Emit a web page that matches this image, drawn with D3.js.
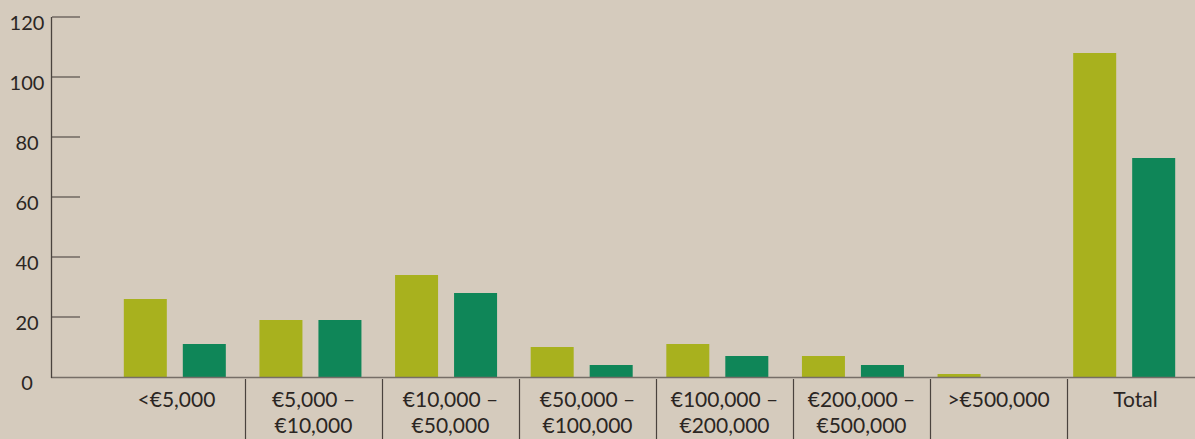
<!DOCTYPE html>
<html lang="en">
<head>
    <meta charset="utf-8">
    <title>Bar chart</title>
    <script src="https://d3js.org/d3.v7.min.js"></script>
    <style>
        body {
            margin: 0;
            background-color: #d5cbbd;
            font-family: Lato, "Open Sans", sans-serif;
        }
        svg {
            display: block;
        }
        .tickLabel, .catLabel {
            fill: #2b2623;
            font-size: 20px;
        }
        .catLabel {
            font-size: 21px;
        }
    </style>
</head>
<body>
<script>

    var w = 1195;
    var h = 439;

    // data
    var categories = [["<\u20AC5,000"], ["\u20AC5,000 \u2013", "\u20AC10,000"], ["\u20AC10,000 \u2013", "\u20AC50,000"],
        ["\u20AC50,000 \u2013", "\u20AC100,000"], ["\u20AC100,000 \u2013", "\u20AC200,000"],
        ["\u20AC200,000 \u2013", "\u20AC500,000"], [">\u20AC500,000"], ["Total"]];
    var seriesA = [26, 19, 34, 10, 11, 7, 1, 108];
    var seriesB = [11, 19, 28, 4, 7, 4, 0, 73];
    var yTicks = [0, 20, 40, 60, 80, 100, 120];

    var colors = ["#a8b11e", "#0f8658"];

    var svg = d3.select("body")
        .append("svg")
        .attr("width", w)
        .attr("height", h);

    //scales
    var yScale = d3.scaleLinear()
        .domain([0, 120])
        .range([377, 17]);

    // bars sit on a slightly tighter step than the divider grid
    var xBars = d3.scaleBand()
        .domain(d3.range(categories.length))
        .range([107, 1192]);

    var xCats = d3.scaleBand()
        .domain(d3.range(categories.length))
        .range([108, 1204]);

    // two bars of 43px with a 16px gap
    var inner = d3.scaleBand()
        .domain([0, 1])
        .range([-51, 51])
        .paddingInner(16 / 59);

    //tick lines
    svg.selectAll("line.tick")
        .data(yTicks.slice(1))
        .enter()
        .append("line")
        .attr("class", "tick")
        .attr("x1", 52)
        .attr("x2", 80)
        .attr("y1", function(d) { return yScale(d); })
        .attr("y2", function(d) { return yScale(d); })
        .attr("stroke", "#766e67")
        .attr("stroke-width", 1.6);

    svg.selectAll("text.tickLabel")
        .data(yTicks)
        .enter()
        .append("text")
        .attr("class", "tickLabel")
        .attr("x", 27)
        .attr("y", function(d) { return yScale(d) + 13; })
        .attr("text-anchor", "middle")
        .text(function(d) { return d; });

    //bars
    var groups = svg.selectAll("g.cat")
        .data(categories)
        .enter()
        .append("g")
        .attr("class", "cat")
        .attr("transform", function(d, i) {
            return "translate(" + (xBars(i) + xBars.bandwidth() / 2) + ",0)";
        });

    groups.selectAll("rect")
        .data(function(d, i) { return [seriesA[i], seriesB[i]]; })
        .enter()
        .append("rect")
        .attr("x", function(d, j) { return inner(j); })
        .attr("width", inner.bandwidth())
        .attr("y", function(d) { return yScale(d); })
        .attr("height", function(d) { return yScale(0) - yScale(d); })
        .attr("fill", function(d, j) { return colors[j]; });

    //baseline and y axis line
    svg.append("line")
        .attr("x1", 51)
        .attr("x2", w)
        .attr("y1", yScale(0) + 0.5)
        .attr("y2", yScale(0) + 0.5)
        .attr("stroke", "#766e67")
        .attr("stroke-width", 1.6);

    svg.append("line")
        .attr("x1", 51.5)
        .attr("x2", 51.5)
        .attr("y1", yScale(120))
        .attr("y2", yScale(0) + 1)
        .attr("stroke", "#4a433e")
        .attr("stroke-width", 1.3);

    //category dividers
    svg.selectAll("line.div")
        .data(d3.range(1, categories.length))
        .enter()
        .append("line")
        .attr("class", "div")
        .attr("x1", function(i) { return xCats(i) + 0.5; })
        .attr("x2", function(i) { return xCats(i) + 0.5; })
        .attr("y1", yScale(0) + 2)
        .attr("y2", h)
        .attr("stroke", "#4a433e")
        .attr("stroke-width", 1.2);

    //category labels
    var labels = svg.selectAll("text.catLabel")
        .data(categories)
        .enter()
        .append("text")
        .attr("class", "catLabel")
        .attr("text-anchor", "middle")
        .attr("x", function(d, i) { return xCats(i) + xCats.bandwidth() / 2; })
        .attr("y", 407);

    labels.selectAll("tspan")
        .data(function(d) { return d; })
        .enter()
        .append("tspan")
        .attr("x", function() { return d3.select(this.parentNode).attr("x"); })
        .attr("dy", function(d, k) { return k === 0 ? 0 : 26; })
        .text(function(d) { return d; });

</script>
</body>
</html>
